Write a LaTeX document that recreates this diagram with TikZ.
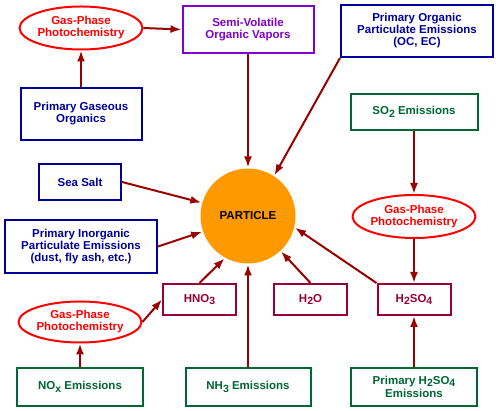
\documentclass[tikz,border=0pt]{standalone}
\usepackage{fontspec}
\setmainfont{Liberation Sans}
\usetikzlibrary{shapes.geometric,arrows.meta}
\definecolor{flowred}{RGB}{153,0,0}
\definecolor{navyblue}{RGB}{0,0,153}
\definecolor{darkgreen}{RGB}{0,102,51}
\definecolor{maroon}{RGB}{153,0,51}
\definecolor{vapviolet}{RGB}{128,0,204}
\definecolor{partorange}{RGB}{255,153,0}
\newcommand{\chemsub}[1]{\raisebox{-0.4ex}{\fontsize{10.5}{10.5}\selectfont #1}}

\begin{document}
\begin{tikzpicture}[x=1pt, y=-1pt, line width=2pt,
  every node/.append style={font=\fontsize{11.5}{12}\selectfont\bfseries, align=center, inner sep=0pt},
  photo/.style={ellipse, draw=red, text=red, minimum width=122pt, minimum height=43pt},
  srcbox/.style={rectangle, draw=navyblue, text=navyblue},
  gasbox/.style={rectangle, draw=darkgreen, text=darkgreen, minimum width=126pt, minimum height=38pt},
  acidbox/.style={rectangle, draw=maroon, text=maroon, minimum width=73pt, minimum height=31pt},
  flow/.style={draw=flowred, -{Latex[length=11pt,width=8pt]}}]
  \useasboundingbox (0,0) rectangle (496,411);

  \node[photo] (photoA) at (81,28) {Gas-Phase\\Photochemistry};
  \node[rectangle, draw=vapviolet, text=vapviolet, minimum width=131pt, minimum height=47pt] (svoc) at (248,29.5) {Semi-Volatile\\Organic Vapors};
  \node[srcbox, minimum width=152pt, minimum height=52pt] (poc) at (417,31) {Primary Organic\\Particulate Emissions\\(OC, EC)};
  \node[srcbox, minimum width=121pt, minimum height=52pt] (pgo) at (81,114) {Primary Gaseous\\Organics};
  \node[gasbox, minimum width=127pt, minimum height=36pt] (so2) at (414,112) {SO\chemsub{2} Emissions};
  \node[srcbox, minimum width=82pt, minimum height=36pt] (salt) at (80,182) {Sea Salt};
  \node[srcbox, minimum width=152pt, minimum height=53pt] (pin) at (81,246.5) {Primary Inorganic\\Particulate Emissions\\(dust, fly ash, etc.)};
  \node[circle, fill=partorange, minimum size=95pt] (particle) at (248,216) {PARTICLE};
  \node[photo] (photoB) at (414,216.5) {Gas-Phase\\Photochemistry};
  \node[photo, minimum height=41pt] (photoC) at (80,322) {Gas-Phase\\Photochemistry};
  \node[acidbox] (hno3) at (199.5,299.5) {HNO\chemsub{3}};
  \node[acidbox] (h2o) at (310.5,299.5) {H\chemsub{2}O};
  \node[acidbox] (h2so4) at (414,299.5) {H\chemsub{2}SO\chemsub{4}};
  \node[gasbox] (nox) at (80,387) {NO\chemsub{x} Emissions};
  \node[gasbox, minimum width=125pt] (nh3) at (248,387) {NH\chemsub{3} Emissions};
  \node[gasbox] (ph2so4) at (414,387) {Primary H\chemsub{2}SO\chemsub{4}\\[1.5pt]Emissions};

  \draw[flow] (pgo.north) -- (photoA.south);
  \draw[flow] (photoA.east) -- (svoc.west);
  \draw[flow] (svoc.south) -- (particle.north);
  \draw[flow] (poc.south west) -- (particle.57);
  \draw[flow] (salt.east) -- (particle.164);
  \draw[flow] (pin.east) -- (particle.199);
  \draw[flow] (so2.south) -- (photoB.north);
  \draw[flow] (photoB.south) -- (h2so4.north);
  \draw[flow] (ph2so4.north) -- (h2so4.south);
  \draw[flow] (h2so4.north west) -- (particle.346);
  \draw[flow] (h2o.north) -- (particle.313);
  \draw[flow] (nh3.north) -- (particle.south);
  \draw[flow] (hno3.north) -- (particle.241);
  \draw[flow] (nox.north) -- (photoC.south);
  \draw[flow] (photoC.east) -- (hno3.west);
\end{tikzpicture}
\end{document}
